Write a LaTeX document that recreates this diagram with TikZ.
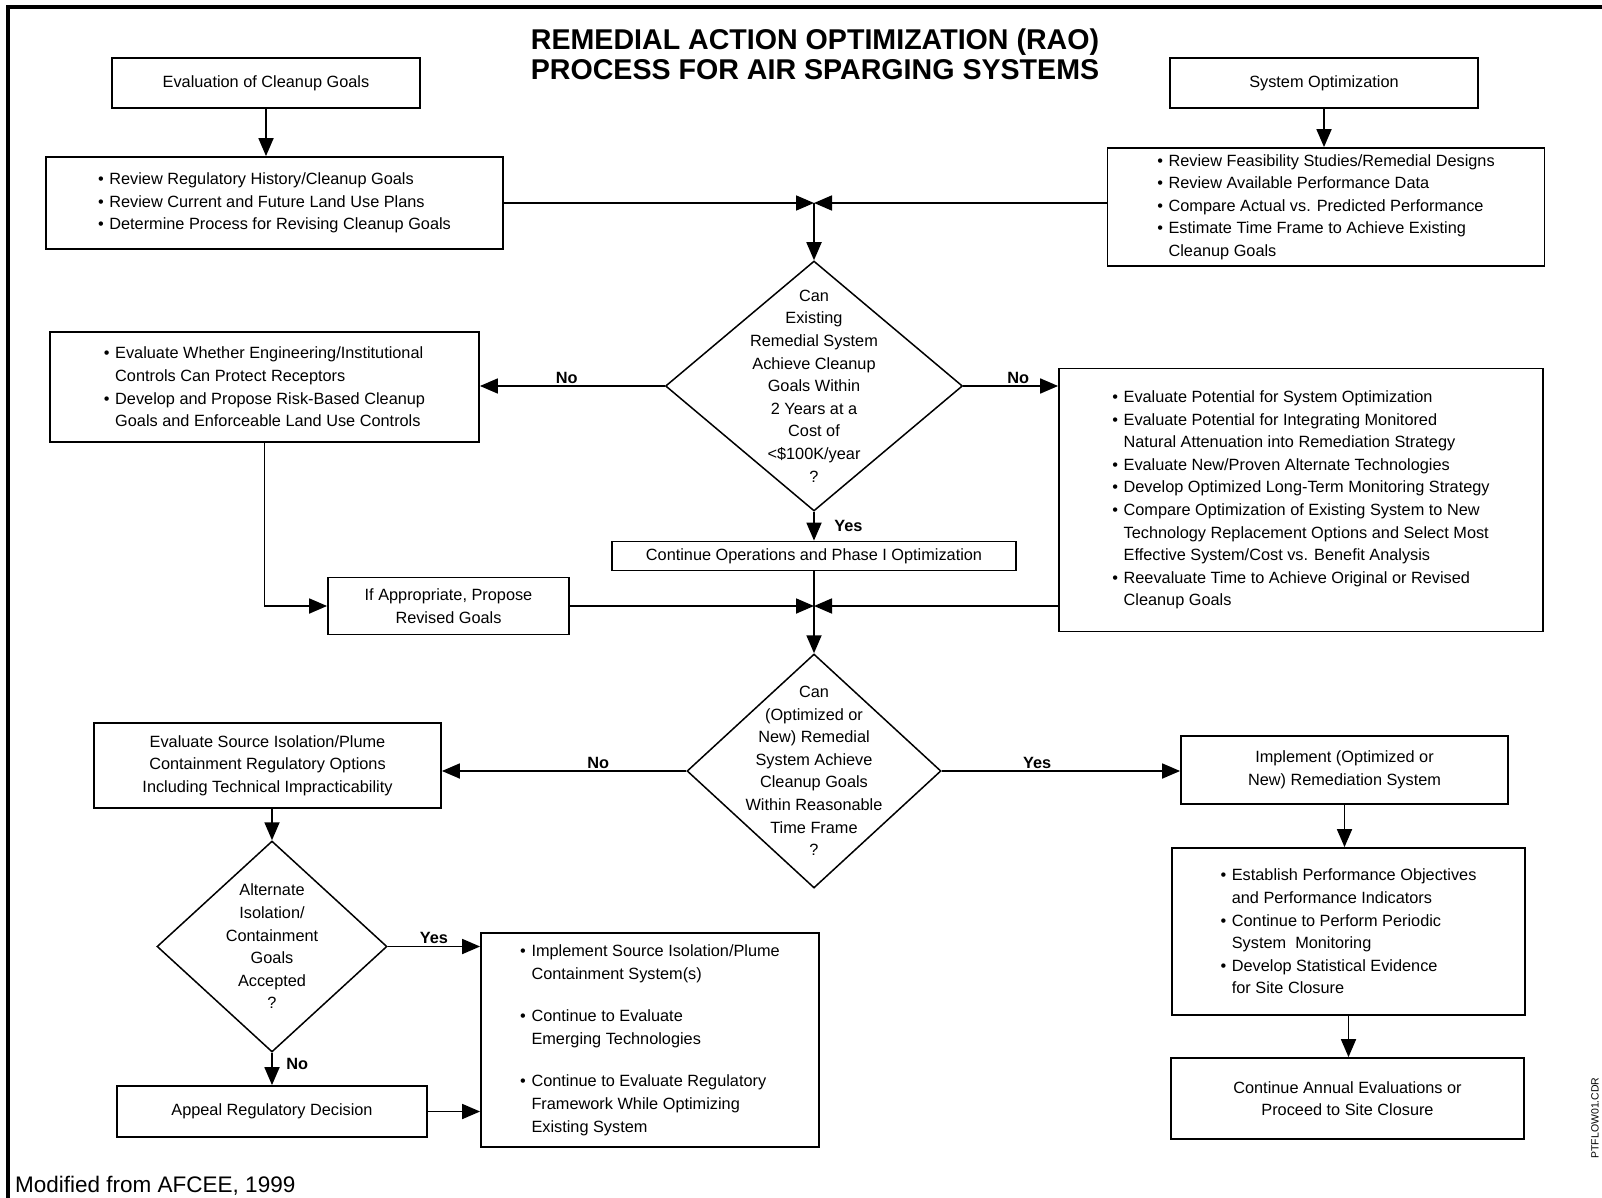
\documentclass[tikz,border=0pt]{standalone}
\usepackage{fontspec}
\setmainfont{Liberation Sans}
\usetikzlibrary{arrows.meta,shapes.geometric}
\newcommand{\bul}{\makebox[11.3pt][l]{\textbullet}}
\newcommand{\cont}{\hspace*{11.3pt}}
\tikzset{
    box/.style = {
        draw,
        line width=1.8pt,
        inner sep=0pt,
        font=\fontsize{16.3}{22.6}\selectfont,
        align=center,
        },
    bullets/.style = {
        box,
        align=left,
        },
    decision/.style = {
        draw,
        diamond,
        line width=1.5pt,
        inner sep=0pt,
        },
    question/.style = {
        font=\fontsize{16.3}{22.6}\selectfont,
        align=center,
        },
    answer/.style = {
        font=\fontsize{16.3}{20}\selectfont\bfseries,
        inner sep=1.5pt,
        },
    flow/.style = {
        line width=1.8pt,
        -{Triangle[length=18pt,width=15pt]},
        },
}
\begin{document}
\begin{tikzpicture}[x=1pt,y=-1pt]
            \useasboundingbox (0,0) rectangle (1602,1198);
            \draw[line width=4pt] (1602,7) -- (8,7) -- (8,1198);

            \node[font=\fontsize{28.6}{30}\selectfont\bfseries, align=center] (title) at (815,54) {REMEDIAL ACTION OPTIMIZATION (RAO)\\PROCESS FOR AIR SPARGING SYSTEMS};

            \node[box, minimum width=308pt, minimum height=50pt] (goals) at (266,83) {Evaluation of Cleanup Goals};
            \node[bullets, minimum width=457pt, minimum height=92pt] (review) at (274.5,203) {\bul Review Regulatory History/Cleanup Goals\\\bul Review Current and Future Land Use Plans\\\bul Determine Process for Revising Cleanup Goals};
            \node[box, minimum width=308pt, minimum height=50pt] (sysopt) at (1324,83) {System Optimization};
            \node[bullets, minimum width=437pt, minimum height=118pt] (feas) at (1326,207) {\bul Review Feasibility Studies/Remedial Designs\\\bul Review Available Performance Data\\\bul Compare Actual vs. Predicted Performance\\\bul Estimate Time Frame to Achieve Existing\\\cont Cleanup Goals};
            \coordinate (j1) at (814,203);

            \node[decision, minimum width=297pt, minimum height=250pt] (q1) at (814,386) {};
            \node[question] (q1text) at (q1) {Can\\Existing\\Remedial System\\Achieve Cleanup\\Goals Within\\2 Years at a\\Cost of\\<\$100K/year\\?};
            \node[bullets, minimum width=429pt, minimum height=110pt] (controls) at (264.5,387) {\bul Evaluate Whether Engineering/Institutional\\\cont Controls Can Protect Receptors\\\bul Develop and Propose Risk-Based Cleanup\\\cont Goals and Enforceable Land Use Controls};
            \node[bullets, minimum width=484pt, minimum height=263pt] (potential) at (1301,500) {\bul Evaluate Potential for System Optimization\\\bul Evaluate Potential for Integrating Monitored\\\cont Natural Attenuation into Remediation Strategy\\\bul Evaluate New/Proven Alternate Technologies\\\bul Develop Optimized Long-Term Monitoring Strategy\\\bul Compare Optimization of Existing System to New\\\cont Technology Replacement Options and Select Most\\\cont Effective System/Cost vs. Benefit Analysis\\\bul Reevaluate Time to Achieve Original or Revised\\\cont Cleanup Goals};
            \node[box, minimum width=404pt, minimum height=29pt] (contops) at (814,556) {Continue Operations and Phase I Optimization};
            \node[box, minimum width=241pt, minimum height=57pt] (revised) at (448.5,606) {If Appropriate, Propose\\Revised Goals};
            \coordinate (j2) at (814,606);

            \node[decision, minimum width=254pt, minimum height=234pt] (q2) at (814,771) {};
            \node[question] (q2text) at (q2) {Can\\(Optimized or\\New) Remedial\\System Achieve\\Cleanup Goals\\Within Reasonable\\Time Frame\\?};
            \node[box, minimum width=347pt, minimum height=85pt] (source) at (267.5,765.5) {Evaluate Source Isolation/Plume\\Containment Regulatory Options\\Including Technical Impracticability};
            \node[box, minimum width=327pt, minimum height=68pt] (implement) at (1344.5,770) {Implement (Optimized or\\New) Remediation System};
            \node[bullets, minimum width=353pt, minimum height=167pt] (monitor) at (1348.5,931.5) {\bul Establish Performance Objectives\\\cont and Performance Indicators\\\bul Continue to Perform Periodic\\\cont System\ \ Monitoring\\\bul Develop Statistical Evidence\\\cont for Site Closure};
            \node[box, minimum width=353pt, minimum height=81pt] (annual) at (1347.5,1098.5) {Continue Annual Evaluations or\\Proceed to Site Closure};

            \node[decision, minimum width=230pt, minimum height=211pt] (q3) at (272,946.5) {};
            \node[question] (q3text) at (q3) {Alternate\\Isolation/\\Containment\\Goals\\Accepted\\?};
            \node[bullets, minimum width=338pt, minimum height=214pt] (isolation) at (650,1040) {\bul Implement Source Isolation/Plume\\\cont Containment System(s)\\[20pt]\bul Continue to Evaluate\\\cont Emerging Technologies\\[20pt]\bul Continue to Evaluate Regulatory\\\cont Framework While Optimizing\\\cont Existing System};
            \node[box, minimum width=310pt, minimum height=51pt] (appeal) at (272,1111.5) {Appeal Regulatory Decision};

            \node[font=\fontsize{22.5}{26}\selectfont, anchor=base west, inner sep=0pt] (credit) at (15,1192) {Modified from AFCEE, 1999};
            \node[font=\fontsize{10.5}{12}\selectfont, rotate=90, inner sep=0pt] (fileid) at (1595,1118) {PTFLOW01.CDR};

            \draw[flow] (goals.south) -- (goals.south |- review.north);
            \draw[flow] (sysopt.south) -- (sysopt.south |- feas.north);
            \draw[flow] (review.east |- j1) -- (j1);
            \draw[flow] (feas.west |- j1) -- (j1);
            \draw[flow] (j1) -- (q1.north);
            \draw[flow] (q1.west) -- node[answer, above, pos=0.53] {No} (q1.west -| controls.east);
            \draw[flow] (q1.east) -- node[answer, above, pos=0.58] {No} (q1.east -| potential.west);
            \draw[flow] (q1.south) -- node[answer, right, xshift=18pt] {Yes} (contops.north);
            \draw[line width=1.8pt] (contops.south) -- (j2);
            \draw[flow] (controls.south) |- (revised.west);
            \draw[flow] (revised.east) -- (j2);
            \draw[flow] (potential.west |- j2) -- (j2);
            \draw[flow] (j2) -- (q2.north);
            \draw[flow] (q2.west) -- node[answer, above, pos=0.36] {No} (q2.west -| source.east);
            \draw[flow] (q2.east) -- node[answer, above, pos=0.40] {Yes} (q2.east -| implement.west);
            \draw[flow] (implement.south) -- (implement.south |- monitor.north);
            \draw[flow] (monitor.south) -- (monitor.south |- annual.north);
            \draw[flow] (source.south -| q3.north) -- (q3.north);
            \draw[flow] (q3.east) -- node[answer, above] {Yes} (q3.east -| isolation.west);
            \draw[flow] (q3.south) -- node[answer, right, xshift=12pt, pos=0.35] {No} (appeal.north);
            \draw[flow] (appeal.east) -- (appeal.east -| isolation.west);
        \end{tikzpicture}
\end{document}
